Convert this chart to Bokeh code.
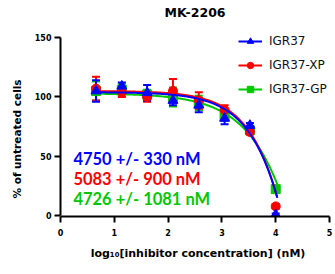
import numpy as np
from bokeh.plotting import figure
from bokeh.models import (ColumnDataSource, Whisker, TeeHead, Legend, LegendItem,
                          FixedTicker, Range1d, Title)
from bokeh.core.properties import value
from bokeh.embed import file_html
from bokeh.resources import INLINE

# ---------------- data ----------------
title_text = "MK-2206"
x_label = "log\u2081\u2080[inhibitor concentration] (nM)"
y_label = "% of untreated cells"
log_conc = [0.66, 1.14, 1.61, 2.09, 2.57, 3.05, 3.52, 4.00]

series_names = ["IGR37", "IGR37-XP", "IGR37-GP"]
igr37_mean = [105, 109, 103.5, 97, 93, 82, 76, 1]
igr37_err = [9, 3, 6.5, 4, 6, 5, 2, 1]
xp_mean = [107, 104, 100, 105, 97, 89, 70.5, 8]
xp_err = [10, 4, 4, 10, 7, 4, 2, 2]
gp_mean = [105, 106, 102, 100, 95, 84, 72, 22.5]
gp_err = [8, 5, 4, 8, 6, 4, 2, 2]

ic50_nM = [4750, 5083, 4726]
ic50_err_nM = [330, 900, 1081]

# fitted 4-parameter logistic curves (top, bottom, hill slope, log midpoint)
fit_top = [104, 105, 103]
fit_bottom = [-1000, -1000, -1000]
fit_hill = [0.84, 0.85, 0.70]
fit_logmid = [5.29, 5.27, 5.64]
fit_x_start, fit_x_end = 0.66, 4.03

x_ticks = [0, 1, 2, 3, 4, 5]
y_ticks = [0, 50, 100, 150]

colors = ["#0000ff", "#ff0000", "#00c800"]
markers = ["triangle", "circle", "square"]
marker_sizes = [10, 9, 9]
means = [igr37_mean, xp_mean, gp_mean]
errs = [igr37_err, xp_err, gp_err]

# ---------------- figure ----------------
W, H = 335, 274
p = figure(width=W, height=H, output_backend="svg", toolbar_location=None,
           x_range=Range1d(0, 5.111), y_range=Range1d(-0.5, 181.0),
           min_border_left=59, min_border_right=0, min_border_top=0,
           min_border_bottom=58)
p.outline_line_color = None
p.grid.visible = False
p.background_fill_color = "white"

FONT = "DejaVu Sans"
for ax in (p.xaxis[0], p.yaxis[0]):
    ax.axis_line_width = 2
    ax.axis_line_color = "black"
    ax.major_tick_line_width = 2
    ax.major_tick_line_color = "black"
    ax.major_tick_out = 6
    ax.major_tick_in = 0
    ax.minor_tick_line_color = None
    ax.major_label_text_font = FONT
    ax.major_label_text_font_style = "bold"
    ax.major_label_text_font_size = "8px"
    ax.major_label_text_color = "black"
    ax.axis_label_text_font = FONT
    ax.axis_label_text_font_style = "bold"
    ax.axis_label_text_font_size = "11px"
    ax.axis_label_text_color = "black"

p.xaxis[0].ticker = FixedTicker(ticks=x_ticks)
p.yaxis[0].ticker = FixedTicker(ticks=y_ticks)
p.xaxis[0].bounds = (0, 5)
p.yaxis[0].bounds = (0, 150)
p.xaxis[0].axis_label = x_label
p.xaxis[0].major_label_standoff = 6
p.yaxis[0].major_label_standoff = 3
p.xaxis[0].axis_label_standoff = 8

# y-axis title placed along the 0-150 part of the axis
p.add_layout(Title(text=y_label, align="left", offset=18, standoff=17,
                   text_font=FONT, text_font_style="bold", text_font_size="10.5px",
                   text_color="black"), "left")

# ---------------- series ----------------
items = [None] * 3
xs_fit = np.linspace(fit_x_start, fit_x_end, 200)
for i in [2, 1, 0]:
    src = ColumnDataSource(dict(
        x=log_conc, y=means[i],
        upper=[m + e for m, e in zip(means[i], errs[i])],
        lower=[m - e for m, e in zip(means[i], errs[i])]))
    w = Whisker(source=src, base="x", upper="upper", lower="lower",
                dimension="height", line_color=colors[i], line_width=2,
                upper_head=TeeHead(size=8, line_color=colors[i], line_width=2),
                lower_head=TeeHead(size=8, line_color=colors[i], line_width=2))
    p.add_layout(w)
    sc = p.scatter("x", "y", source=src, marker=markers[i], size=marker_sizes[i],
                   fill_color=colors[i], line_color=colors[i])
    yfit = fit_bottom[i] + (fit_top[i] - fit_bottom[i]) / (
        1 + 10 ** (fit_hill[i] * (xs_fit - fit_logmid[i])))
    ln = p.line(xs_fit, yfit, line_color=colors[i], line_width=2)
    items[i] = LegendItem(label=series_names[i], renderers=[ln, sc])

legend = Legend(items=items, location=(178, 119), orientation="vertical",
                glyph_width=24, glyph_height=16, label_height=16,
                spacing=8, padding=0, margin=0, label_standoff=7,
                label_text_font=FONT, label_text_font_size="12px",
                label_text_color="#111111",
                border_line_color=None, background_fill_alpha=0)
p.add_layout(legend)

# ---------------- texts ----------------
p.text(x=[2.5], y=[170.5], text=[title_text], text_align="center",
       text_baseline="alphabetic", text_font=value(FONT),
       text_font_style="bold", text_font_size="12.5px", text_color="black")

ic_y = [47.9, 31.1, 14.3]
for i in range(3):
    p.text(x=[0.24], y=[ic_y[i]], text=[f"{ic50_nM[i]} +/- {ic50_err_nM[i]} nM"],
           text_align="left", text_baseline="alphabetic",
           text_font=value("Lato"), text_font_style="bold",
           text_font_size="16.5px", text_color=colors[i])

open("out.html", "w").write(file_html(p, INLINE))
